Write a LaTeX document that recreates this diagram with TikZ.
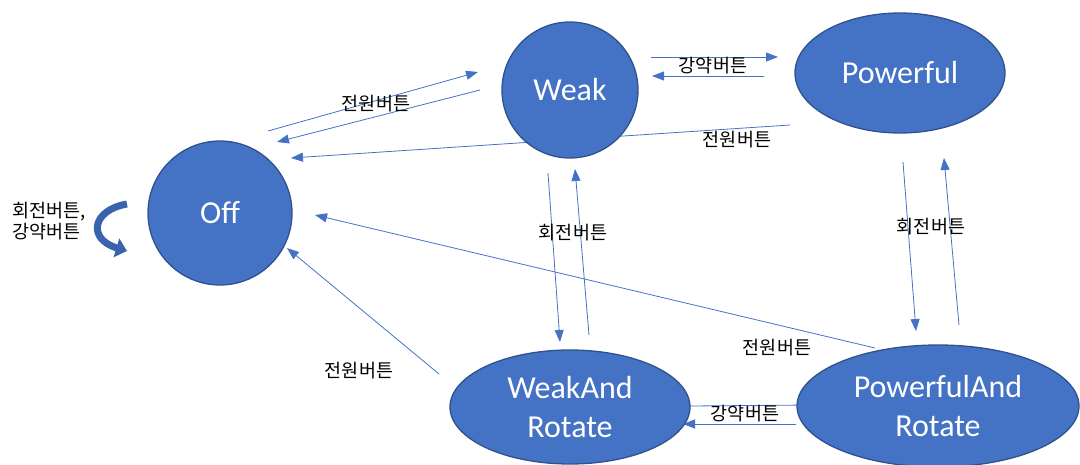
\documentclass[tikz,border=0pt]{standalone}
\usepackage{fontspec}
\setmainfont{Carlito}
\newfontfamily\kr{Noto Sans CJK KR}
\usetikzlibrary{arrows.meta,shapes.geometric}
\definecolor{nodefill}{HTML}{4472C4}
\definecolor{nodeedge}{HTML}{2F528F}
\definecolor{linec}{HTML}{4472C4}
\definecolor{loopc}{HTML}{3A63AE}
\pgfdeclarelayer{bg}
\pgfsetlayers{bg,main}
\tikzset{
  state/.style={draw=nodeedge, line width=1.3pt, fill=nodefill, text=white,
    font=\fontsize{32}{39}\selectfont, align=center, inner sep=0pt},
  circ/.style={state, circle, minimum size=#1},
  ell/.style n args={2}{state, ellipse, minimum width=#1, minimum height=#2},
  conn/.style={draw=linec, line width=0.8pt, -{Triangle[length=12pt,width=9pt]}},
  lbl/.style={font=\kr\fontsize{18.5}{21}\selectfont, text=black, inner sep=0pt}
}
\begin{document}
\begin{tikzpicture}[x=1pt,y=-1pt]
\useasboundingbox (0,0) rectangle (1080,465);
% states
\node[circ=144pt] (Off) at (220,213) {Off};
\node[circ=136pt] (Weak) at (570,90) {Weak};
\node[ell={210pt}{120pt}] (Pow) at (900,73) {Powerful};
\node[ell={240pt}{114pt}] (WAR) at (570,407) {WeakAnd\\Rotate};
\node[ell={282pt}{122pt}] (PAR) at (938,406) {PowerfulAnd\\Rotate};
% connectors
\begin{pgfonlayer}{bg}
\draw[conn] ([shift={(48,-82)}]Off.center) -- ([shift={(-92,-18)}]Weak.center);
\draw[conn] ([shift={(-90,0)}]Weak.center) -- ([shift={(57,-71)}]Off.center);
\draw[conn] ([shift={(-110,52)}]Pow.center) -- ([shift={(71,-55)}]Off.center);
\draw[conn] ([shift={(81,-33)}]Weak.center) -- ([shift={(-122,-16)}]Pow.center);
\draw[conn] ([shift={(-136,3)}]Pow.center) -- ([shift={(82,-14)}]Weak.center);
\draw[conn] ([shift={(-22,83)}]Weak.center) -- ([shift={(-10,-65)}]WAR.center);
\draw[conn] ([shift={(19,-72)}]WAR.center) -- ([shift={(5,79)}]Weak.center);
\draw[conn] ([shift={(3,89)}]Pow.center) -- ([shift={(-22,-75)}]PAR.center);
\draw[conn] ([shift={(21,-81)}]PAR.center) -- ([shift={(44,85)}]Pow.center);
\draw[conn] ([shift={(-142,18)}]PAR.center) -- ([shift={(113,17)}]WAR.center);
\draw[conn] ([shift={(120,-1)}]WAR.center) -- ([shift={(-126,-1)}]PAR.center);
\draw[conn] ([shift={(-63,-58)}]PAR.center) -- ([shift={(95,2)}]Off.center);
\draw[conn] ([shift={(-131,-33)}]WAR.center) -- ([shift={(67,35)}]Off.center);
\end{pgfonlayer}
% self loop on Off
\coordinate (loopS) at ([shift={(-93,-9)}]Off.center);
\coordinate (loopE) at ([shift={(-93,38)}]Off.center);
\draw[loopc, line width=7pt, -{Triangle[length=11pt,width=19pt]}]
  (loopS) .. controls ([shift={(-35,6)}]loopS) and ([shift={(-40,-12)}]loopE) .. (loopE);
% labels
\node[lbl] (l1) at (376,104) {전원버튼};
\node[lbl] (l2) at (713,66) {강약버튼};
\node[lbl] (l3) at (737,140) {전원버튼};
\node[lbl] (l4) at (573,233) {회전버튼};
\node[lbl] (l5) at (931,227) {회전버튼};
\node[lbl] (l6) at (777,348) {전원버튼};
\node[lbl] (l7) at (745,414) {강약버튼};
\node[lbl] (l8) at (359,371) {전원버튼};
\node[lbl, anchor=west, align=left] (l9) at (12,221) {회전버튼,\\강약버튼};
\end{tikzpicture}
\end{document}
